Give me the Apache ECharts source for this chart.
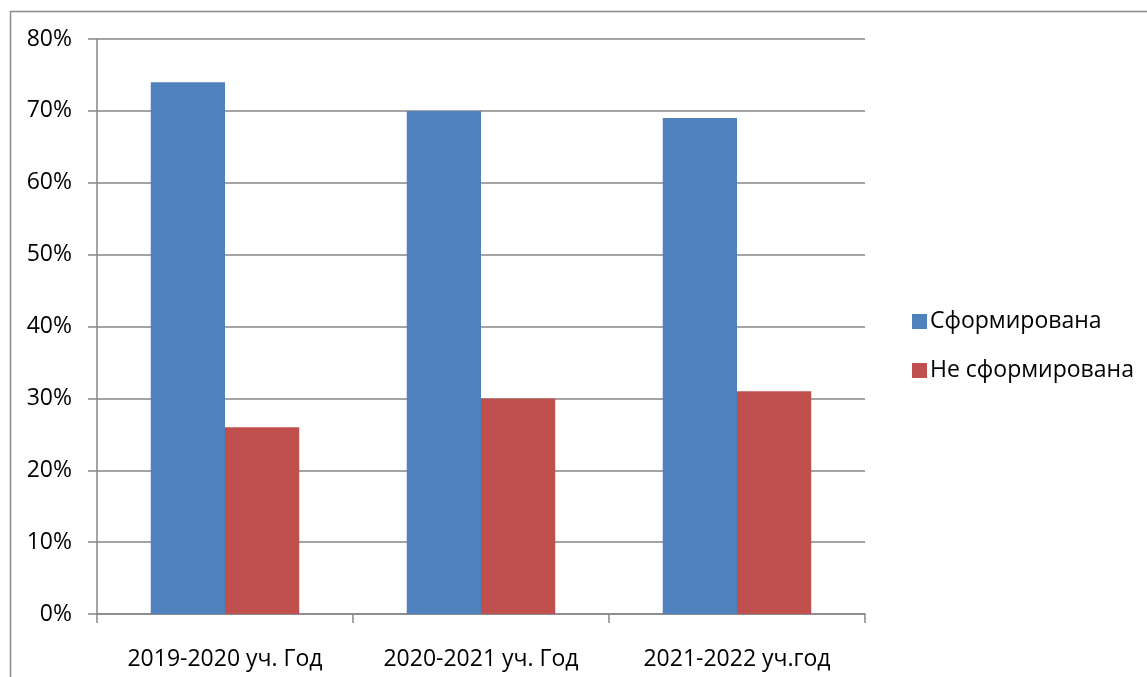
<!DOCTYPE html>
<html>
<head>
<meta charset="utf-8">
<script src="https://cdn.jsdelivr.net/npm/echarts@6/dist/echarts.min.js"></script>
<style>html,body{margin:0;padding:0;background:#fff;}#c{width:1147px;height:677px;}</style>
</head>
<body>
<div id="c"></div>
<script>
const categories = ['2019-2020 уч. Год', '2020-2021 уч. Год', '2021-2022 уч.год'];
const formed = [74, 70, 69];
const notFormed = [26, 30, 31];
const seriesNames = ['Сформирована', 'Не сформирована'];

const chart = echarts.init(document.getElementById('c'));
const font = 'Open Sans';
chart.setOption({
  animation: false,
  graphic: [{
    type: 'rect', left: 8, top: 9, silent: true,
    shape: { width: 1200, height: 700 },
    style: { fill: 'none', stroke: '#8c8c8c', lineWidth: 1.5 }
  }],
  grid: { left: 97, top: 39, width: 768, height: 575, containLabel: false },
  legend: {
    orient: 'vertical', left: 907, top: 304,
    itemWidth: 15, itemHeight: 15, itemGap: 24,
    itemStyle: { borderWidth: 0 },
    icon: 'rect',
    textStyle: { fontFamily: font, fontSize: 23, color: '#000', lineHeight: 25, padding: [0, 0, 0, -2] },
    data: seriesNames
  },
  xAxis: {
    type: 'category', data: categories,
    axisLine: { lineStyle: { color: '#868686', width: 1.5 } },
    axisTick: { show: true, length: 9, alignWithLabel: false, lineStyle: { color: '#868686', width: 1.5 } },
    axisLabel: { fontFamily: font, fontSize: 23, color: '#000', margin: 34 }
  },
  yAxis: {
    type: 'value', min: 0, max: 80, interval: 10,
    axisLine: { show: true, lineStyle: { color: '#868686', width: 1.5 } },
    axisTick: { show: true, length: 9, lineStyle: { color: '#868686', width: 1.5 } },
    splitLine: { lineStyle: { color: '#868686', width: 1.5 } },
    axisLabel: { fontFamily: font, fontSize: 23, color: '#000', margin: 25, formatter: '{value}%' }
  },
  series: [
    { name: seriesNames[0], type: 'bar', data: formed, barGap: '0%', barCategoryGap: '42%', itemStyle: { color: '#4F81BD' } },
    { name: seriesNames[1], type: 'bar', data: notFormed, itemStyle: { color: '#C0504D' } }
  ]
});
</script>
</body>
</html>
